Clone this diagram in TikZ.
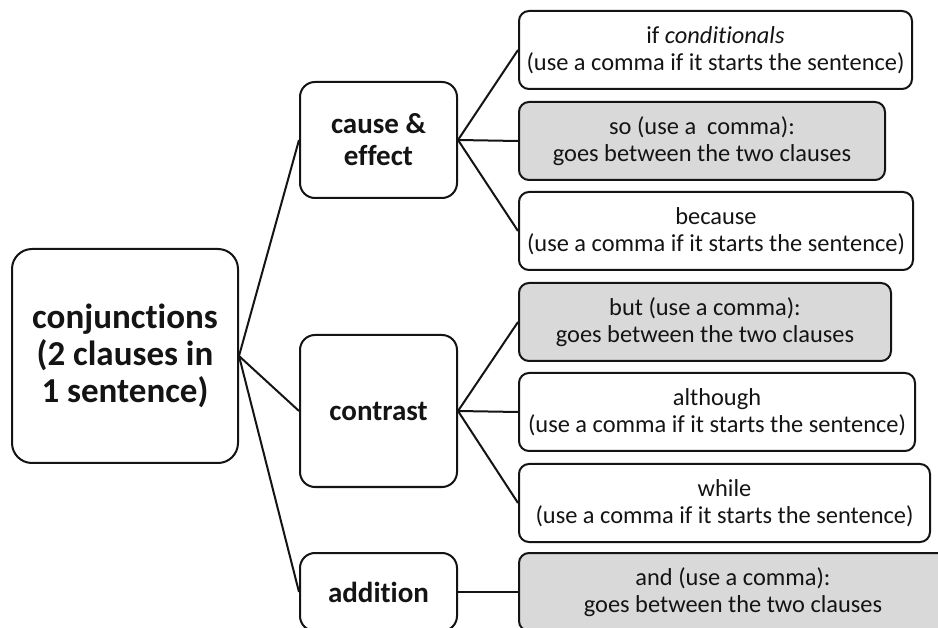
\documentclass[tikz,border=0pt]{standalone}
\usepackage{fontspec}
\setmainfont[Ligatures=NoCommon]{Carlito}
\definecolor{boxgray}{RGB}{217,217,217}
\definecolor{inkcol}{RGB}{20,20,20}
\tikzset{
  box/.style={draw=inkcol, line width=2pt, align=center, inner sep=0pt, text=inkcol},
  rootbox/.style={box, rounded corners=20pt, font=\fontsize{35}{37}\selectfont\bfseries},
  midbox/.style={box, rounded corners=15pt, font=\fontsize{29}{32}\selectfont\bfseries},
  leafbox/.style={box, rounded corners=10pt, font=\fontsize{24.4}{27}\selectfont, minimum height=78pt},
  shaded/.style={fill=boxgray},
  link/.style={draw=inkcol, line width=2pt}
}
\begin{document}
\begin{tikzpicture}[x=1pt,y=-1pt]
\useasboundingbox (0,0) rectangle (938,628);
\clip (0,0) rectangle (938,628);
\fill[white] (0,0) rectangle (938,628);

\node[rootbox, minimum width=226pt, minimum height=214pt] (root) at (125,356)
  {conjunctions\\(2 clauses in\\1 sentence)};

\node[midbox, minimum width=157pt, minimum height=116pt] (cause) at (378.5,140) {cause \&\\effect};
\node[midbox, minimum width=157pt, minimum height=152pt] (contrast) at (378.5,411) {contrast};
\node[midbox, minimum width=157pt, minimum height=78pt] (addition) at (378.5,592) {addition};

\node[leafbox, minimum width=393pt] (b1) at (715.5,50) {if \emph{conditionals}\\(use a comma if it starts the sentence)};
\node[leafbox, shaded, minimum width=366pt] (b2) at (702,141) {so (use a\ \ comma):\\goes between the two clauses};
\node[leafbox, minimum width=394pt] (b3) at (716,231) {because\\(use a comma if it starts the sentence)};
\node[leafbox, shaded, minimum width=372pt] (b4) at (705,322) {but (use a comma):\\goes between the two clauses};
\node[leafbox, minimum width=396pt] (b5) at (717,412) {although\\(use a comma if it starts the sentence)};
\node[leafbox, minimum width=411pt] (b6) at (724.5,503) {while\\(use a comma if it starts the sentence)};
\node[leafbox, shaded, minimum width=428pt] (b7) at (733,592) {and (use a comma):\\goes between the two clauses};

\draw[link] (root.east) -- (cause.west);
\draw[link] (root.east) -- (contrast.west);
\draw[link] (root.east) -- (addition.west);
\draw[link] (cause.east) -- (b1.west);
\draw[link] (cause.east) -- (b2.west);
\draw[link] (cause.east) -- (b3.west);
\draw[link] (contrast.east) -- (b4.west);
\draw[link] (contrast.east) -- (b5.west);
\draw[link] (contrast.east) -- (b6.west);
\draw[link] (addition.east) -- (b7.west);
\end{tikzpicture}
\end{document}
